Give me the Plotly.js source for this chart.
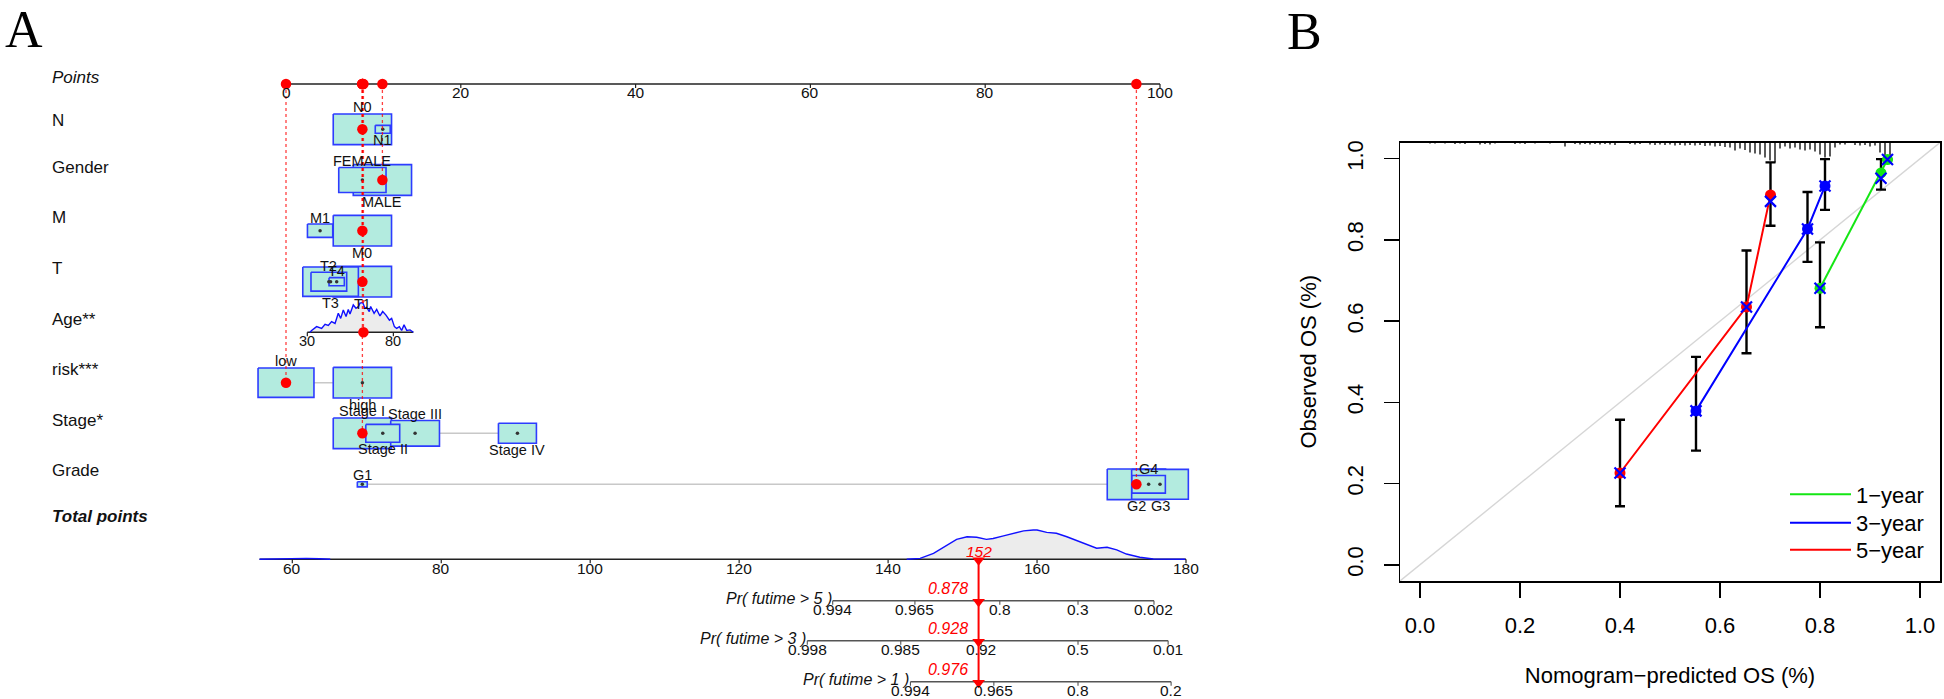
<!DOCTYPE html>
<html><head><meta charset="utf-8">
<script src="https://cdn.plot.ly/plotly-3.0.1.min.js"></script>
<style>html,body{margin:0;padding:0;background:#fff}#chart{width:1944px;height:699px}</style>
</head><body><div id="chart"></div>
<script>
// ================= DATA : Panel A (nomogram) =================
const pointTicks = [0, 20, 40, 60, 80, 100];

const nLevels = ['N0', 'N1'];
const nPoints = [8.74, 11.07];
const nFreq = [1, 0.066];

const genderLevels = ['FEMALE', 'MALE'];
const genderPoints = [8.74, 11.03];
const genderFreq = [0.658, 1];

const mLevels = ['M0', 'M1'];
const mPoints = [8.74, 3.9];
const mFreq = [1, 0.188];

const tLevels = ['T1', 'T2', 'T3', 'T4'];
const tPoints = [8.74, 4.9, 5.1, 5.8];
const tFreq = [1, 0.375, 0.909, 0.069];

const riskLevels = ['low', 'high'];
const riskPoints = [0, 8.74];
const riskFreq = [0.92, 1];

const stageLevels = ['Stage I', 'Stage II', 'Stage III', 'Stage IV'];
const stagePoints = [8.74, 11.07, 14.77, 26.48];
const stageFreq = [1, 0.338, 0.70, 0.424];

const gradeLevels = ['G1', 'G2', 'G3', 'G4'];
const gradePoints = [8.73, 97.3, 100, 98.7];
const gradeFreq = [0.029, 1, 0.946, 0.329];

const ageTicks = [30, 80];
const agePointsAt30 = 2.44;
const agePointsPerYear = 0.1969;
const ageDensX = [31.5,32.5,35.4,38.3,40.3,42.2,44.1,46.1,48.0,49.4,50.9,52.5,53.8,54.8,56.7,58.3,59.7,60.6,62.2,63.5,64.5,66.0,66.8,68.8,70.3,72.2,73.8,75.7,77.7,79.0,80.6,81.9,83.5,84.8,86.2,87.8,89.7,91.6];
const ageDensY = [0,0.06,0.19,0.13,0.27,0.23,0.36,0.30,0.64,0.47,0.75,0.53,0.77,0.62,0.92,0.81,0.87,0.98,1.00,0.81,0.84,0.70,0.87,0.64,0.77,0.55,0.70,0.58,0.41,0.47,0.19,0.13,0.19,0.06,0.25,0.06,0.08,0];

const patient = {N:'N0', Gender:'MALE', M:'M0', T:'T1', Age:62.6, risk:'low', Stage:'Stage I', Grade:'G2'};

const totalTicks = [60, 80, 100, 120, 140, 160, 180];
const totalAxisStart = 55.6;
const totalDensLowX = [55.6, 58.3, 61.9, 63.7, 65.1];
const totalDensLowY = [0, 0.02, 0.03, 0.02, 0];
const totalDensX = [142.5,144.3,146.1,147.9,149.2,150.6,151.9,153.2,154.1,155.5,156.8,158.2,159.5,160.0,161.3,162.6,164.0,165.3,166.7,168.0,169.4,170.7,172.0,173.8,175.6,177.4,179.9];
const totalDensY = [0,0.03,0.20,0.49,0.68,0.77,0.75,0.68,0.71,0.80,0.89,0.97,1.0,1.0,0.92,0.89,0.77,0.64,0.49,0.38,0.41,0.32,0.18,0.07,0.01,0,0];

const surv5Labels = ['0.994', '0.965', '0.8', '0.3', '0.002'];
const surv5Total  = [132.56, 143.6, 155.0, 165.5, 175.7];
const surv3Labels = ['0.998', '0.985', '0.92', '0.5', '0.01'];
const surv3Total  = [129.15, 141.7, 152.5, 165.5, 177.6];
const surv1Labels = ['0.994', '0.965', '0.8', '0.2'];
const surv1Total  = [143.0, 154.2, 165.5, 178.0];
const survNames = ['Pr( futime > 5 )', 'Pr( futime > 3 )', 'Pr( futime > 1 )'];
const patientSurv = [0.878, 0.928, 0.976];

// ================= DATA : Panel B (calibration) =================
const calTicks = [0, 0.2, 0.4, 0.6, 0.8, 1.0];
const seriesNames = ['1\u2212year', '3\u2212year', '5\u2212year'];
const predicted1 = [0.800, 0.922, 0.935];
const observed1  = [0.681, 0.965, 0.998];
const corrected1 = [0.681, 0.952, 0.998];
const lower1     = [0.585, 0.924, 0.998];
const upper1     = [0.794, 0.999, 0.998];
const predicted3 = [0.552, 0.775, 0.810];
const observed3  = [0.379, 0.827, 0.933];
const corrected3 = [0.379, 0.827, 0.933];
const lower3     = [0.281, 0.746, 0.874];
const upper3     = [0.512, 0.918, 0.999];
const predicted5 = [0.400, 0.653, 0.701];
const observed5  = [0.226, 0.635, 0.911];
const corrected5 = [0.226, 0.635, 0.895];
const lower5     = [0.144, 0.521, 0.835];
const upper5     = [0.357, 0.774, 0.991];
const rugPred = [0.02,0.03,0.05,0.07,0.08,0.09,0.12,0.13,0.14,0.15,0.19,0.20,0.21,0.23,0.26,0.29,0.31,0.32,0.33,0.34,0.35,0.36,0.37,0.38,0.39,0.42,0.43,0.44,0.46,0.47,0.48,0.49,0.50,0.51,0.52,0.53,0.54,0.55,0.56,0.57,0.58,0.59,0.60,0.61,0.62,0.63,0.64,0.65,0.66,0.67,0.68,0.69,0.70,0.71,0.72,0.73,0.74,0.75,0.76,0.77,0.78,0.79,0.80,0.81,0.82,0.83,0.84,0.85,0.87,0.88,0.89,0.90,0.91,0.92,0.93,0.94];
const rugFreq = [0.05,0.05,0.05,0.08,0.05,0.08,0.10,0.08,0.10,0.05,0.08,0.05,0.08,0.05,0.05,0.20,0.08,0.10,0.08,0.10,0.08,0.10,0.08,0.10,0.12,0.08,0.10,0.08,0.10,0.12,0.10,0.12,0.10,0.15,0.12,0.15,0.12,0.15,0.12,0.18,0.15,0.20,0.18,0.22,0.25,0.40,0.30,0.38,0.50,0.55,0.60,0.75,0.90,1.00,0.30,0.20,0.30,0.25,0.35,0.40,0.35,0.45,0.60,0.75,0.70,0.25,0.10,0.10,0.12,0.15,0.12,0.20,0.15,0.50,0.80,0.70];

// ================= LAYOUT CONSTANTS =================
const W = 1944, H = 699;
const SANS = 'Liberation Sans, Arial, sans-serif';
const SERIF = 'Liberation Serif, Times New Roman, serif';
const A = {pt0Px: 286, pt100Px: 1160, tot60Px: 292.3, tot180Px: 1186};
const rowY = {points:84, N:129.3, Gender:180, M:230.7, T:281.7, Age:332.3, risk:382.7, Stage:433.3, Grade:484.3, total:559.3, pr5:600.7, pr3:640.7, pr1:681.7};
const rowLabels = [['<i>Points</i>',77],['N',120],['Gender',167.5],['M',217.5],['T',268],['Age**',319],['risk***',369],['Stage*',420],['Grade',470.5],['<b><i>Total points</i></b>',516]];
const legendRowY = [494.5, 523, 550];
const BOX = {wPx: 58.3, hPx: 30.7, fill: '#b3ebdf', edge: '#2d3cff'};
const pxPerPt = (A.pt100Px - A.pt0Px) / 100;
const pxPerTot = (A.tot180Px - A.tot60Px) / 120;
const ageToPts = a => agePointsAt30 + (a - 30) * agePointsPerYear;

const data = [];
const ann = [];
function lineTrace(x, y, xa, line, extra) {
  data.push(Object.assign({type:'scatter', mode:'lines', x, y, xaxis:xa, yaxis:'y2', line, hoverinfo:'skip', showlegend:false}, extra||{}));
}
function txt(text, x, y, xref, size, opts) {
  ann.push(Object.assign({text, x, y, xref, yref:'y2', showarrow:false, xanchor:'center', yanchor:'middle',
    font:{family:SANS, size, color:'#111'}}, opts||{}));
}

// ---------- Points axis ----------
lineTrace([0, 100], [rowY.points, rowY.points], 'x2', {color:'#222', width:1.6});
(function(){
  const xs=[], ys=[];
  pointTicks.forEach(t => { xs.push(t, t, null); ys.push(rowY.points, rowY.points+4, null); txt(String(t), t, rowY.points+8.8, 'x2', 15.5); });
  lineTrace(xs, ys, 'x2', {color:'#222', width:1.2});
})();

// ---------- categorical rows ----------
const rows = [
  {key:'N', levels:nLevels, pts:nPoints, freq:nFreq},
  {key:'Gender', levels:genderLevels, pts:genderPoints, freq:genderFreq},
  {key:'M', levels:mLevels, pts:mPoints, freq:mFreq},
  {key:'T', levels:tLevels, pts:tPoints, freq:tFreq},
  {key:'risk', levels:riskLevels, pts:riskPoints, freq:riskFreq},
  {key:'Stage', levels:stageLevels, pts:stagePoints, freq:stageFreq},
  {key:'Grade', levels:gradeLevels, pts:gradePoints, freq:gradeFreq}
];
const chosen = [];
rows.forEach(r => {
  const y = rowY[r.key];
  lineTrace([Math.min(...r.pts), Math.max(...r.pts)], [y, y], 'x2', {color:'#c8c8c8', width:1.5});
  const bySize = r.levels.map((_, i) => i).sort((a, b) => r.freq[b] - r.freq[a]);
  bySize.forEach(i => {
    const w = BOX.wPx / pxPerPt * Math.sqrt(r.freq[i]);
    const h = BOX.hPx * Math.sqrt(r.freq[i]);
    const c = r.pts[i];
    lineTrace([c-w/2, c+w/2, c+w/2, c-w/2, c-w/2], [y-h/2, y-h/2, y+h/2, y+h/2, y-h/2], 'x2',
      {color:BOX.edge, width:1.6}, {fill:'toself', fillcolor:BOX.fill});
  });
  data.push({type:'scatter', mode:'markers', x:r.pts, y:r.pts.map(() => y), xaxis:'x2', yaxis:'y2',
    marker:{size:3.5, color:'#333'}, hoverinfo:'skip', showlegend:false});
  const byVal = r.levels.map((_, i) => i).sort((a, b) => r.pts[a] - r.pts[b]);
  byVal.forEach((i, k) => {
    const h = BOX.hPx * Math.sqrt(r.freq[i]);
    txt(r.levels[i], r.pts[i], k % 2 === 0 ? y - h/2 - 6.5 : y + h/2 + 6.5, 'x2', 14.5);
  });
  chosen.push({p: r.pts[r.levels.indexOf(patient[r.key])], y});
});

// ---------- Age row ----------
(function(){
  const y = rowY.Age, hpx = 29.7;
  const dx = ageDensX.map(ageToPts), dy = ageDensY.map(v => y - v*hpx);
  lineTrace(dx.concat([dx[dx.length-1], dx[0]]), dy.concat([y, y]), 'x2', {color:'rgba(0,0,0,0)', width:0}, {fill:'toself', fillcolor:'#ececec'});
  lineTrace([ageToPts(30), ageToPts(ageDensX[ageDensX.length-1])], [y, y], 'x2', {color:'#222', width:1.6});
  lineTrace(dx, dy, 'x2', {color:'#1010ff', width:1.4});
  const xs=[], ys=[];
  ageTicks.forEach(t => { xs.push(ageToPts(t), ageToPts(t), null); ys.push(y, y+4, null); txt(String(t), ageToPts(t), y+8.7, 'x2', 14.5); });
  lineTrace(xs, ys, 'x2', {color:'#222', width:1.2});
  chosen.push({p: ageToPts(patient.Age), y});
})();

// ---------- Total points ----------
const totalScore = chosen.reduce((s, c) => s + c.p, 0);
(function(){
  const y = rowY.total, hpx = 29.3;
  [[totalDensLowX, totalDensLowY], [totalDensX, totalDensY]].forEach(([X, Y]) => {
    const dy = Y.map(v => y - v*hpx);
    lineTrace(X.concat([X[X.length-1], X[0]]), dy.concat([y, y]), 'x3', {color:'rgba(0,0,0,0)', width:0}, {fill:'toself', fillcolor:'#ececec'});
  });
  lineTrace([totalAxisStart, totalTicks[totalTicks.length-1]], [y, y], 'x3', {color:'#222', width:1.6});
  [[totalDensLowX, totalDensLowY], [totalDensX, totalDensY]].forEach(([X, Y]) => {
    lineTrace(X, Y.map(v => y - v*hpx), 'x3', {color:'#1010ff', width:1.4});
  });
  const xs=[], ys=[];
  totalTicks.forEach(t => { xs.push(t, t, null); ys.push(y, y+4, null); txt(String(t), t, y+9, 'x3', 15.5); });
  lineTrace(xs, ys, 'x3', {color:'#222', width:1.2});
})();

// ---------- survival probability scales ----------
[[surv5Labels, surv5Total, rowY.pr5], [surv3Labels, surv3Total, rowY.pr3], [surv1Labels, surv1Total, rowY.pr1]].forEach(([labs, pos, y], j) => {
  lineTrace([pos[0], pos[pos.length-1]], [y, y], 'x3', {color:'#555', width:1.5});
  const xs=[], ys=[];
  pos.forEach((p, i) => { xs.push(p, p, null); ys.push(y, y+4, null); txt(labs[i], p, y+8.7, 'x3', 15.5); });
  lineTrace(xs, ys, 'x3', {color:'#555', width:1.1});
  txt('<i>' + survNames[j] + '</i>', pos[0], y - 2, 'x3', 16, {xanchor:'right', xshift:1});
  txt('<i>' + patientSurv[j].toFixed(3) + '</i>', totalScore, y - 12.2, 'x3', 16, {xanchor:'right', xshift:-9, font:{family:SANS, size:16, color:'#ff0000'}});
});

// ---------- red patient markers ----------
(function(){
  const xs=[], ys=[];
  chosen.forEach(c => { xs.push(c.p, c.p, null); ys.push(rowY.points, c.y, null); });
  lineTrace(xs, ys, 'x2', {color:'rgba(255,0,0,0.75)', width:1.3, dash:'dot'});
  data.push({type:'scatter', mode:'markers', x:chosen.map(c => c.p).concat(chosen.map(c => c.p)),
    y:chosen.map(c => c.y).concat(chosen.map(() => rowY.points)), xaxis:'x2', yaxis:'y2',
    marker:{size:10.5, color:'#ff0000'}, hoverinfo:'skip', showlegend:false});
  lineTrace([totalScore, totalScore], [rowY.total, rowY.pr1], 'x3', {color:'#ff0000', width:2});
  const ty = [rowY.total, rowY.pr5, rowY.pr3, rowY.pr1];
  data.push({type:'scatter', mode:'markers', x:ty.map(() => totalScore), y:ty.map(v => v + 1), xaxis:'x3', yaxis:'y2',
    marker:{symbol:'triangle-down', size:11, color:'#ff0000'}, hoverinfo:'skip', showlegend:false});
  txt('<i>' + Math.round(totalScore) + '</i>', totalScore, rowY.total - 7.8, 'x3', 15.5, {font:{family:SANS, size:15.5, color:'#ff0000'}});
})();

rowLabels.forEach(([t, y]) => txt(t, 0, y, 'paper', 17, {x: 50/W, xanchor:'left'}));

// ================= Panel B traces =================
data.push({type:'scatter', mode:'lines', x:[-0.04, 1.04], y:[-0.04, 1.04], line:{color:'#d6d6d6', width:1.4}, hoverinfo:'skip', showlegend:false});
(function(){
  const xs=[], ys=[], top=1.04, maxLen=0.049;
  rugPred.forEach((p, i) => { xs.push(p, p, null); ys.push(top, top - rugFreq[i]*maxLen, null); });
  data.push({type:'scatter', mode:'lines', x:xs, y:ys, line:{color:'#000', width:1.3}, hoverinfo:'skip', showlegend:false});
})();
const series = [
  {pred:predicted1, obs:observed1, cor:corrected1, lo:lower1, hi:upper1, color:'#14e614'},
  {pred:predicted3, obs:observed3, cor:corrected3, lo:lower3, hi:upper3, color:'#0000ff'},
  {pred:predicted5, obs:observed5, cor:corrected5, lo:lower5, hi:upper5, color:'#ff0000'}
];
series.forEach(s => {
  data.push({type:'scatter', mode:'markers', x:s.pred, y:s.obs, marker:{size:1, color:'rgba(0,0,0,0)'},
    error_y:{type:'data', symmetric:false, array:s.hi.map((v,i) => v - s.obs[i]), arrayminus:s.obs.map((v,i) => v - s.lo[i]),
      color:'#000', thickness:2.4, width:5}, hoverinfo:'skip', showlegend:false});
});
const legendIds = ['legend', 'legend2', 'legend3'];
series.forEach((s, k) => {
  data.push({type:'scatter', mode:'lines', name:seriesNames[k], x:s.pred, y:s.obs, line:{color:s.color, width:2},
    hoverinfo:'skip', showlegend:true, legend:legendIds[k]});
});
series.forEach(s => {
  data.push({type:'scatter', mode:'markers', x:s.pred, y:s.obs, marker:{size:11, color:s.color}, hoverinfo:'skip', showlegend:false});
});
series.forEach(s => {
  data.push({type:'scatter', mode:'markers', x:s.pred, y:s.cor, marker:{symbol:'x-thin-open', size:11, color:'#0000ff', line:{width:2.2, color:'#0000ff'}}, hoverinfo:'skip', showlegend:false});
});

ann.push({text:'A', x:24/W, y:1-30/H, xref:'paper', yref:'paper', showarrow:false, xanchor:'center', yanchor:'middle', font:{family:SERIF, size:52, color:'#000'}});
ann.push({text:'B', x:1304/W, y:1-31/H, xref:'paper', yref:'paper', showarrow:false, xanchor:'center', yanchor:'middle', font:{family:SERIF, size:52, color:'#000'}});

const tickTxt = calTicks.map(v => v.toFixed(1));
const legendBase = {x:1785/W, xanchor:'left', yanchor:'middle', bgcolor:'rgba(0,0,0,0)', borderwidth:0,
  font:{family:SANS, size:22, color:'#000'}, itemwidth:61};
const layout = {
  width:W, height:H, margin:{l:0, r:0, t:0, b:0, pad:0},
  paper_bgcolor:'#fff', plot_bgcolor:'rgba(0,0,0,0)',
  font:{family:SANS, color:'#000'},
  showlegend:true,
  legend:Object.assign({}, legendBase, {y:1-legendRowY[0]/H}),
  legend2:Object.assign({}, legendBase, {y:1-legendRowY[1]/H}),
  legend3:Object.assign({}, legendBase, {y:1-legendRowY[2]/H}),
  xaxis:{domain:[1400/W, 1940/W], range:[-0.04, 1.04], anchor:'y', showline:true, mirror:true, linecolor:'#000', linewidth:1.5,
    ticks:'outside', ticklen:15, tickwidth:1.5, tickcolor:'#000', tickvals:calTicks, ticktext:tickTxt,
    tickfont:{family:SANS, size:22, color:'#000'}, showgrid:false, zeroline:false, ticklabelstandoff:9, fixedrange:true,
    title:{text:'Nomogram\u2212predicted OS (%)', font:{family:SANS, size:22, color:'#000'}, standoff:30}},
  yaxis:{domain:[(H-581)/H, (H-142.5)/H], range:[-0.04, 1.04], anchor:'x', showline:true, mirror:true, linecolor:'#000', linewidth:1.5,
    ticks:'outside', ticklen:15, tickwidth:1.5, tickcolor:'#000', tickvals:calTicks, ticktext:tickTxt, tickangle:-90,
    tickfont:{family:SANS, size:22, color:'#000'}, showgrid:false, zeroline:false, ticklabelstandoff:12, fixedrange:true,
    title:{text:'Observed OS (%)', font:{family:SANS, size:22, color:'#000'}, standoff:20}},
  xaxis2:{domain:[0, 1], range:[-A.pt0Px/pxPerPt, (W - A.pt0Px)/pxPerPt], anchor:'y2', visible:false, fixedrange:true},
  yaxis2:{domain:[0, 1], range:[H, 0], anchor:'x2', visible:false, fixedrange:true},
  xaxis3:{domain:[0, 1], range:[60 - A.tot60Px/pxPerTot, 60 + (W - A.tot60Px)/pxPerTot], anchor:'y2', overlaying:'x2', visible:false, fixedrange:true},
  annotations:ann
};
Plotly.newPlot('chart', data, layout, {staticPlot:true, displayModeBar:false});
</script>
</body></html>
